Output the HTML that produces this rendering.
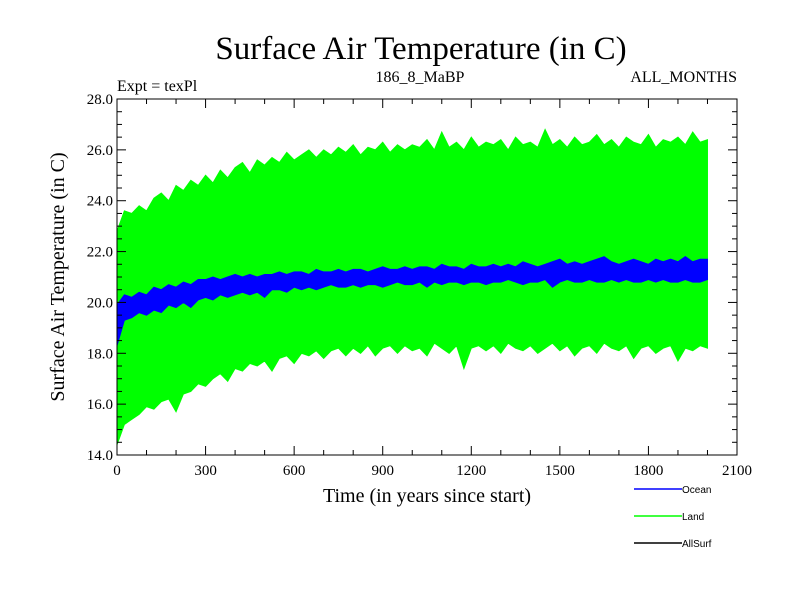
<!DOCTYPE html>
<html><head><meta charset="utf-8"><style>
body{margin:0;background:#fff;}
svg text{font-family:"Liberation Serif",serif;}
svg text.sans{font-family:"Liberation Sans",sans-serif;}
</style></head><body>
<svg width="800" height="600" xmlns="http://www.w3.org/2000/svg">
<text x="421" y="59" font-size="33" text-anchor="middle">Surface Air Temperature (in C)</text>
<text x="117" y="91" font-size="16">Expt = texPl</text>
<text x="420" y="82" font-size="16" text-anchor="middle">186_8_MaBP</text>
<text x="737" y="82" font-size="16" text-anchor="end">ALL_MONTHS</text>
<g id="plot"></g>
<g id="axes"></g>
<text x="427" y="502" font-size="20" text-anchor="middle">Time (in years since start)</text>
<text transform="translate(64,277) rotate(-90)" font-size="20" text-anchor="middle">Surface Air Temperature (in C)</text>
<g>
<g><line x1="634" y1="489" x2="682" y2="489" stroke="#0000ff" stroke-width="1.5"/><text class="sans" x="682" y="493" font-size="10">Ocean</text></g>
<g><line x1="634" y1="516" x2="682" y2="516" stroke="#00ff00" stroke-width="1.5"/><text class="sans" x="682" y="520" font-size="10">Land</text></g>
<g><line x1="634" y1="543" x2="682" y2="543" stroke="#000" stroke-width="1.5"/><text class="sans" x="682" y="547" font-size="10">AllSurf</text></g>
</g>
</svg>
<script>
const yearStep = 25;
const landUpper = [22.8,23.6,23.5,23.8,23.6,24.1,24.3,24.0,24.6,24.4,24.8,24.6,25.0,24.7,25.2,24.9,25.3,25.5,25.1,25.6,25.4,25.7,25.5,25.9,25.6,25.8,26.0,25.7,26.0,25.8,26.1,25.9,26.2,25.8,26.1,26.0,26.3,25.9,26.2,26.0,26.2,26.1,26.4,26.0,26.7,26.1,26.3,26.0,26.5,26.1,26.3,26.2,26.4,26.0,26.5,26.2,26.3,26.1,26.8,26.2,26.4,26.1,26.5,26.2,26.3,26.6,26.2,26.4,26.1,26.5,26.3,26.2,26.6,26.1,26.4,26.3,26.5,26.2,26.7,26.3,26.4];
const landLower = [14.4,15.2,15.4,15.6,15.9,15.8,16.1,16.2,15.7,16.4,16.5,16.8,16.7,17.0,17.2,16.9,17.4,17.3,17.6,17.5,17.7,17.3,17.8,17.9,17.6,18.0,17.9,18.1,17.8,18.1,18.2,17.9,18.2,18.0,18.3,17.9,18.2,18.3,18.0,18.3,18.1,18.2,17.9,18.4,18.2,18.0,18.3,17.4,18.2,18.3,18.1,18.3,18.0,18.4,18.2,18.1,18.3,18.0,18.2,18.4,18.1,18.3,17.9,18.2,18.3,18.0,18.4,18.2,18.1,18.3,17.8,18.2,18.3,18.0,18.2,18.3,17.7,18.2,18.1,18.3,18.2];
const oceanUpper = [19.9,20.3,20.2,20.4,20.3,20.6,20.5,20.7,20.6,20.8,20.7,20.9,20.9,21.0,20.9,21.0,21.1,21.0,21.1,21.0,21.1,21.1,21.2,21.1,21.2,21.2,21.1,21.3,21.2,21.2,21.3,21.2,21.3,21.3,21.2,21.3,21.4,21.3,21.3,21.4,21.3,21.4,21.4,21.3,21.5,21.4,21.4,21.3,21.5,21.4,21.4,21.5,21.4,21.5,21.4,21.6,21.5,21.4,21.5,21.6,21.7,21.5,21.6,21.5,21.6,21.7,21.8,21.6,21.5,21.6,21.7,21.6,21.5,21.7,21.6,21.7,21.6,21.8,21.6,21.7,21.7];
const oceanLower = [18.3,19.3,19.4,19.6,19.5,19.7,19.6,19.9,19.8,20.0,19.8,20.1,20.2,20.1,20.3,20.2,20.3,20.4,20.3,20.4,20.2,20.5,20.5,20.4,20.6,20.5,20.6,20.5,20.6,20.7,20.6,20.6,20.7,20.6,20.7,20.7,20.6,20.7,20.8,20.7,20.7,20.8,20.6,20.8,20.7,20.8,20.8,20.7,20.8,20.8,20.7,20.8,20.8,20.9,20.8,20.7,20.8,20.8,20.9,20.6,20.8,20.9,20.8,20.8,20.9,20.8,20.8,20.9,20.8,20.9,20.8,20.8,20.9,20.8,20.9,20.8,20.8,20.9,20.8,20.8,20.9];
const xTicks = [0,300,600,900,1200,1500,1800,2100];
const yTicks = [14,16,18,20,22,24,26,28];
const X0=117,X1=737,Y0=455,Y1=99;
const sx=v=>X0+(v/2100)*(X1-X0), sy=v=>Y0-(v-14)/14*(Y0-Y1);
const NS="http://www.w3.org/2000/svg";
function mk(t,a,p){const e=document.createElementNS(NS,t);for(const k in a)e.setAttribute(k,a[k]);p.appendChild(e);return e;}
const plot=document.getElementById('plot'), axes=document.getElementById('axes');
function band(up,lo,color,name){
  let pts=[];
  up.forEach((v,i)=>pts.push(sx(i*yearStep)+','+sy(v)));
  for(let i=lo.length-1;i>=0;i--)pts.push(sx(i*yearStep)+','+sy(lo[i]));
  const p=mk('polygon',{points:pts.join(' '),fill:color,stroke:color,'stroke-width':1},plot);
  
  
}
band(landUpper,landLower,'#00ff00','land-series');
band(oceanUpper,oceanLower,'#0000ff','ocean-series');
const fr=mk('rect',{x:X0,y:Y1,width:X1-X0,height:Y0-Y1,fill:'none',stroke:'#000','stroke-width':1},axes);


for(let v=0;v<=2100;v+=100){const x=sx(v),L=v%300===0?9:5;
  mk('line',{x1:x,y1:Y0,x2:x,y2:Y0-L,stroke:'#000'},axes);mk('line',{x1:x,y1:Y1,x2:x,y2:Y1+L,stroke:'#000'},axes);}
for(let v=14;v<=28;v+=0.5){const y=sy(v),L=v%2===0?9:5;
  mk('line',{x1:X0,y1:y,x2:X0+L,y2:y,stroke:'#000'},axes);mk('line',{x1:X1,y1:y,x2:X1-L,y2:y,stroke:'#000'},axes);}
xTicks.forEach(v=>{const t=mk('text',{x:sx(v),y:Y0+20,'font-size':15,'text-anchor':'middle'},axes);t.textContent=v;
  
  });
yTicks.forEach(v=>{const t=mk('text',{x:X0-4,y:sy(v)+5,'font-size':15,'text-anchor':'end'},axes);t.textContent=v.toFixed(1);
  
  });
</script>
</body></html>
